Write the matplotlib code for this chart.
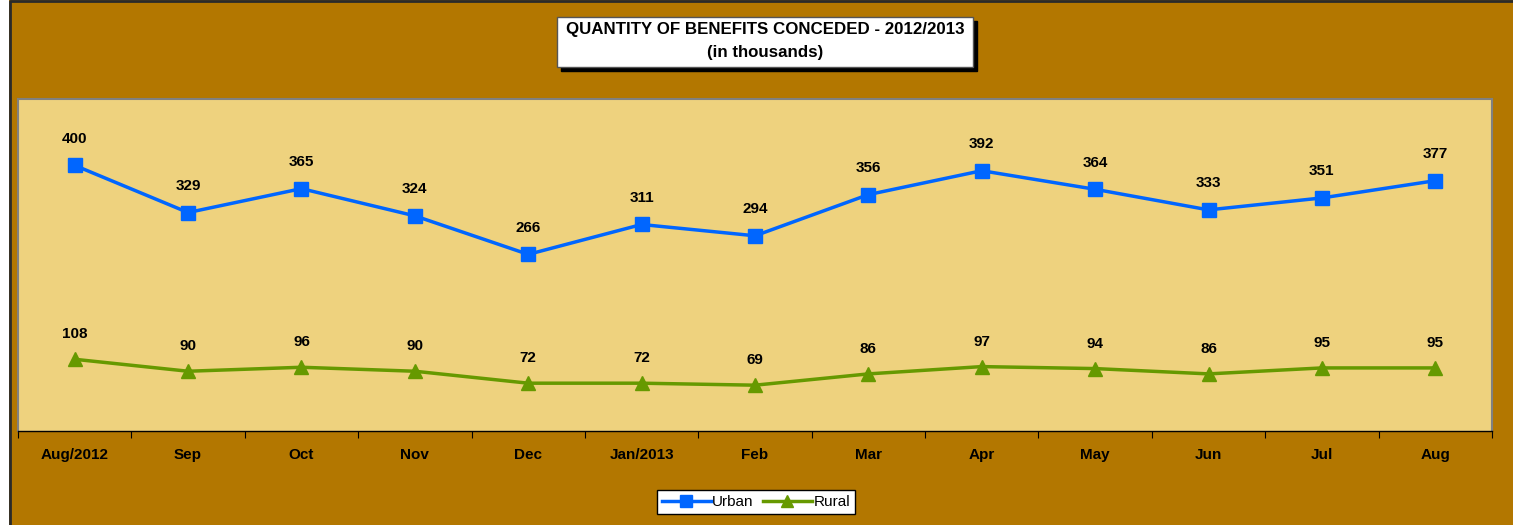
import matplotlib.pyplot as plt
from matplotlib.patches import Rectangle
from matplotlib.lines import Line2D

months = ['Aug/2012', 'Sep', 'Oct', 'Nov', 'Dec', 'Jan/2013', 'Feb', 'Mar', 'Apr', 'May', 'Jun', 'Jul', 'Aug']
urban = [400, 329, 365, 324, 266, 311, 294, 356, 392, 364, 333, 351, 377]
rural = [108, 90, 96, 90, 72, 72, 69, 86, 97, 94, 86, 95, 95]

plt.rcParams['font.family'] = ['Liberation Sans', 'DejaVu Sans']

outer = '#B37700'
inner = '#EED27E'
blue = '#0066FF'
green = '#669900'

fig = plt.figure(figsize=(15.13, 5.25), dpi=100, facecolor='white')
# brown chart area, dark border only on the left and top
fig.patches.append(Rectangle((9 / 1513, 0), 1, 1, transform=fig.transFigure,
                             facecolor=outer, edgecolor='none', zorder=-5))
fig.lines.append(Line2D([9.5 / 1513, 9.5 / 1513, 1], [0, 1 - 1 / 525, 1 - 1 / 525],
                        transform=fig.transFigure, color='#2a2a2a', linewidth=2, zorder=-4))

ax = fig.add_axes([18 / 1513, 1 - 431 / 525, 1474 / 1513, 332 / 525])
ax.set_facecolor(inner)

x = list(range(len(months)))
ax.plot(x, urban, color=blue, linewidth=2.5, marker='s', markersize=10, label='Urban', clip_on=False)
ax.plot(x, rural, color=green, linewidth=2.5, marker='^', markersize=10, label='Rural', clip_on=False)

for i in x:
    ax.annotate(str(urban[i]), (i, urban[i]), xytext=(0, 14), textcoords='offset points',
                ha='center', va='bottom', fontsize=11, fontweight='bold')
    ax.annotate(str(rural[i]), (i, rural[i]), xytext=(0, 13), textcoords='offset points',
                ha='center', va='bottom', fontsize=11, fontweight='bold')

ax.set_xlim(-0.5, len(months) - 0.5)
ax.set_ylim(0, 500)
ax.set_yticks([])
ax.set_xticks([i - 0.5 for i in range(len(months) + 1)])
ax.set_xticklabels([])
ax.set_xticks(x, minor=True)
ax.set_xticklabels(months, minor=True, fontsize=11, fontweight='bold')
ax.tick_params(axis='x', which='major', direction='out', length=5, color='black')
ax.tick_params(axis='x', which='minor', length=0, pad=12)

for side in ['left', 'right', 'top']:
    ax.spines[side].set_color('#808080')
    ax.spines[side].set_linewidth(1.5)
ax.spines['bottom'].set_color('black')
ax.spines['bottom'].set_linewidth(1)

# title box with shadow
fig.patches.append(Rectangle((561 / 1513, 1 - 71 / 525), 416 / 1513, 50 / 525, transform=fig.transFigure,
                             facecolor='black', edgecolor='black', zorder=1))
fig.patches.append(Rectangle((557 / 1513, 1 - 67 / 525), 416 / 1513, 50 / 525, transform=fig.transFigure,
                             facecolor='white', edgecolor='#555555', linewidth=1, zorder=2))
fig.text(765 / 1513, 1 - 41 / 525, 'QUANTITY OF BENEFITS CONCEDED - 2012/2013\n(in thousands)',
         ha='center', va='center', fontsize=12.2, fontweight='bold', linespacing=1.6, zorder=3)

leg = fig.legend(loc='center', bbox_to_anchor=(756 / 1513, 1 - 502 / 525), ncol=2, frameon=True,
                 fancybox=False, edgecolor='black', facecolor='white', framealpha=1, fontsize=11,
                 handlelength=3.2, handletextpad=0.1, columnspacing=0.6, borderpad=0.3, markerscale=0.9)
leg.get_frame().set_linewidth(1)

fig.savefig('out.png', dpi=100, facecolor=fig.get_facecolor())
